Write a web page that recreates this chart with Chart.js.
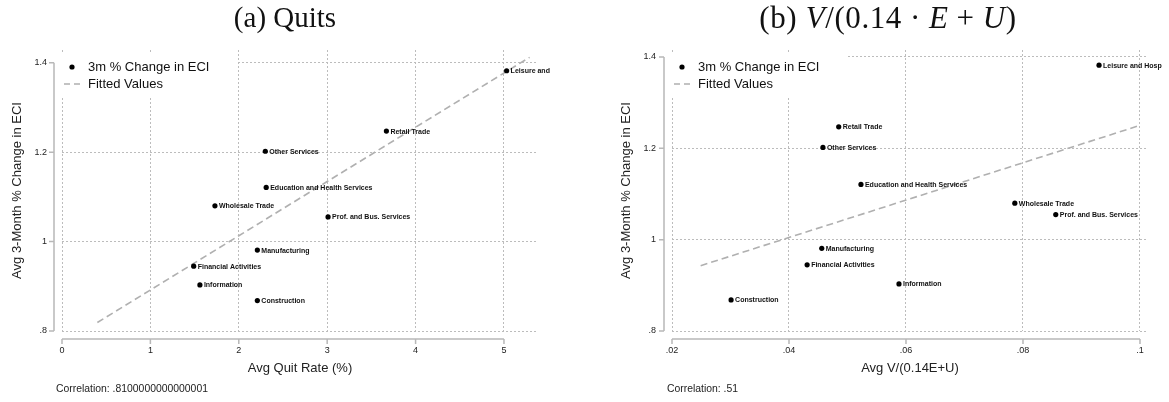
<!DOCTYPE html>
<html>
<head>
<meta charset="utf-8">
<script src="https://cdn.jsdelivr.net/npm/chart.js@4.4.1/dist/chart.umd.min.js"></script>
<style>
  html, body { margin: 0; padding: 0; background: #fff; }
  #wrap { position: relative; width: 1169px; height: 402px; overflow: hidden; }
  canvas { position: absolute; top: 0; }
  #quitsChart { left: 0; }
  #vuChart { left: 580px; }
  .panel-title {
    position: absolute; top: 0; line-height: 34px;
    font-family: "Liberation Serif", "Times New Roman", serif; font-size: 29px; color: #111;
    transform: translateX(-50%); white-space: nowrap;
  }
  .panel-title.math { font-size: 31px; letter-spacing: 0.6px; top: 1px; }
  .sp { display: inline-block; width: 0.26em; }
  .corr {
    position: absolute; top: 383px; font-family: "Liberation Sans", Arial, sans-serif;
    font-size: 10.4px; color: #222; white-space: nowrap;
  }
</style>
</head>
<body>
<div id="wrap">
  <canvas id="quitsChart" width="590" height="402"></canvas>
  <canvas id="vuChart" width="589" height="402"></canvas>
  <div class="panel-title" style="left:285px">(a) Quits</div>
  <div class="panel-title math" style="left:888px">(b) <i>V</i>/(0.14<span class="sp"></span>&middot;<span class="sp"></span><i>E</i><span class="sp"></span>+<span class="sp"></span><i>U</i>)</div>
  <div class="corr" style="left:56px">Correlation: .8100000000000001</div>
  <div class="corr" style="left:667px">Correlation: .51</div>
</div>
<script>
// industries, same order in every array
const industries = ['Leisure and Hosp', 'Retail Trade', 'Other Services', 'Education and Health Services',
  'Wholesale Trade', 'Prof. and Bus. Services', 'Manufacturing', 'Financial Activities', 'Information', 'Construction'];
// panel (a) cuts the first label short
const quitLabels = ['Leisure and', ...industries.slice(1)];

const eciChange = [1.382, 1.247, 1.202, 1.121, 1.080, 1.055, 0.981, 0.945, 0.903, 0.868];
const quitRate = [5.03, 3.67, 2.30, 2.31, 1.73, 3.01, 2.21, 1.49, 1.56, 2.21];
const vuRatio = [0.0930, 0.0485, 0.0458, 0.0523, 0.0786, 0.0856, 0.0456, 0.0431, 0.0588, 0.0301];

// fitted lines (end points)
const quitFitX = [0.40, 5.29];
const quitFitY = [0.819, 1.412];
const vuFitX = [0.0249, 0.0997];
const vuFitY = [0.943, 1.249];

const eciTicks = [0.8, 1, 1.2, 1.4];
const eciTickLabels = ['.8', '1', '1.2', '1.4'];
const quitTicks = [0, 1, 2, 3, 4, 5];
const quitTickLabels = ['0', '1', '2', '3', '4', '5'];
const vuTicks = [0.02, 0.04, 0.06, 0.08, 0.1];
const vuTickLabels = ['.02', '.04', '.06', '.08', '.1'];

const SANS = '"Liberation Sans", Arial, sans-serif';
const GRID = '#bcbcbc';
const AXIS = '#b8b8b8';

// Stata-like axes, legend and point labels
const stataPlugin = {
  id: 'stata',
  beforeDatasetsDraw(chart) {
    const { ctx, chartArea: a, scales: { x, y } } = chart;
    ctx.save();
    // legend box hides the grid behind it
    ctx.fillStyle = '#fff';
    ctx.fillRect(a.left - 4, 52, 178, 46);

    const ax = a.left - 8;
    const ay = a.bottom + 8;
    const yp = y.ticks.map((t) => y.getPixelForValue(t.value));
    const xp = x.ticks.map((t) => x.getPixelForValue(t.value));
    ctx.strokeStyle = AXIS;
    ctx.lineWidth = 1.5;
    ctx.beginPath();
    ctx.moveTo(ax, Math.min(...yp));
    ctx.lineTo(ax, Math.max(...yp));
    yp.forEach((p) => { ctx.moveTo(ax - 5, p); ctx.lineTo(ax, p); });
    ctx.moveTo(Math.min(...xp), ay);
    ctx.lineTo(Math.max(...xp), ay);
    xp.forEach((p) => { ctx.moveTo(p, ay); ctx.lineTo(p, ay + 5); });
    ctx.stroke();

    // legend
    ctx.fillStyle = '#000';
    ctx.beginPath();
    ctx.arc(a.left + 10, 67, 2.6, 0, Math.PI * 2);
    ctx.fill();
    ctx.strokeStyle = '#b0b0b0';
    ctx.lineWidth = 1.6;
    ctx.setLineDash([6, 4]);
    ctx.beginPath();
    ctx.moveTo(a.left + 2, 84);
    ctx.lineTo(a.left + 20, 84);
    ctx.stroke();
    ctx.setLineDash([]);
    ctx.fillStyle = '#111';
    ctx.font = `13px ${SANS}`;
    ctx.textBaseline = 'middle';
    ctx.fillText('3m % Change in ECI', a.left + 26, 67);
    ctx.fillText('Fitted Values', a.left + 26, 84);
    ctx.restore();
  },
  afterDatasetsDraw(chart) {
    const { ctx } = chart;
    const meta = chart.getDatasetMeta(0);
    const labels = chart.data.datasets[0].pointLabels;
    ctx.save();
    ctx.fillStyle = '#111';
    ctx.font = `bold 7px ${SANS}`;
    ctx.textBaseline = 'middle';
    meta.data.forEach((pt, i) => {
      ctx.fillText(labels[i], pt.x + 4, pt.y + 0.5);
    });
    ctx.restore();
  },
};

function makeChart(canvasId, opts) {
  const ctx = document.getElementById(canvasId).getContext('2d');
  const points = opts.xs.map((v, i) => ({ x: v, y: eciChange[i] }));
  const fit = opts.fitX.map((v, i) => ({ x: v, y: opts.fitY[i] }));

  return new Chart(ctx, {
    type: 'scatter',
    data: {
      datasets: [{
        data: points,
        pointLabels: opts.labels,
        backgroundColor: '#000',
        borderColor: '#000',
        pointRadius: 2.6,
        pointBorderWidth: 0,
        clip: false,
      }, {
        type: 'line',
        data: fit,
        borderColor: '#b0b0b0',
        borderWidth: 1.6,
        borderDash: [7, 4],
        pointRadius: 0,
        fill: false,
        clip: false,
      }],
    },
    options: {
      responsive: false,
      animation: false,
      events: [],
      layout: { padding: { left: 0, top: 50, right: opts.padRight, bottom: 0 } },
      plugins: { legend: { display: false }, tooltip: { enabled: false } },
      scales: {
        x: {
          type: 'linear',
          min: opts.xMin,
          max: opts.xMax,
          afterBuildTicks(scale) { scale.ticks = opts.xTicks.map((v) => ({ value: v })); },
          afterFit(scale) { scale.height = 71; },
          grid: { color: GRID, lineWidth: 1, drawTicks: false },
          border: { display: false, dash: [2, 2] },
          ticks: {
            padding: 14,
            color: '#222',
            font: { family: SANS, size: 9 },
            maxRotation: 0,
            callback: (v, i) => opts.xTickLabels[i],
          },
          title: {
            display: true,
            text: opts.xTitle,
            color: '#222',
            font: { family: SANS, size: 13 },
            padding: { top: 0, bottom: 26.2 },
          },
        },
        y: {
          type: 'linear',
          min: 0.8,
          max: opts.yMax,
          afterBuildTicks(scale) { scale.ticks = eciTicks.map((v) => ({ value: v })); },
          afterFit(scale) { scale.width = opts.yWidth; },
          grid: { color: GRID, lineWidth: 1, drawTicks: false },
          border: { display: false, dash: [2, 2] },
          ticks: {
            padding: opts.yPad,
            color: '#222',
            font: { family: SANS, size: 9 },
            callback: (v, i) => eciTickLabels[i],
          },
          title: {
            display: true,
            text: 'Avg 3-Month % Change in ECI',
            color: '#222',
            font: { family: SANS, size: 13 },
            padding: { top: opts.yTitlePad, bottom: 0 },
          },
        },
      },
    },
    plugins: [stataPlugin],
  });
}

makeChart('quitsChart', {
  xs: quitRate, labels: quitLabels, fitX: quitFitX, fitY: quitFitY,
  xMin: 0, xMax: 5.385, xTicks: quitTicks, xTickLabels: quitTickLabels,
  xTitle: 'Avg Quit Rate (%)', yMax: 1.4284, yWidth: 62, yPad: 15, yTitlePad: 9.2, padRight: 52,
});

makeChart('vuChart', {
  xs: vuRatio, labels: industries, fitX: vuFitX, fitY: vuFitY,
  xMin: 0.02, xMax: 0.10137, xTicks: vuTicks, xTickLabels: vuTickLabels,
  xTitle: 'Avg V/(0.14E+U)', yMax: 1.4153, yWidth: 92, yPad: 16, yTitlePad: 38.2, padRight: 21,
});
</script>
</body>
</html>
